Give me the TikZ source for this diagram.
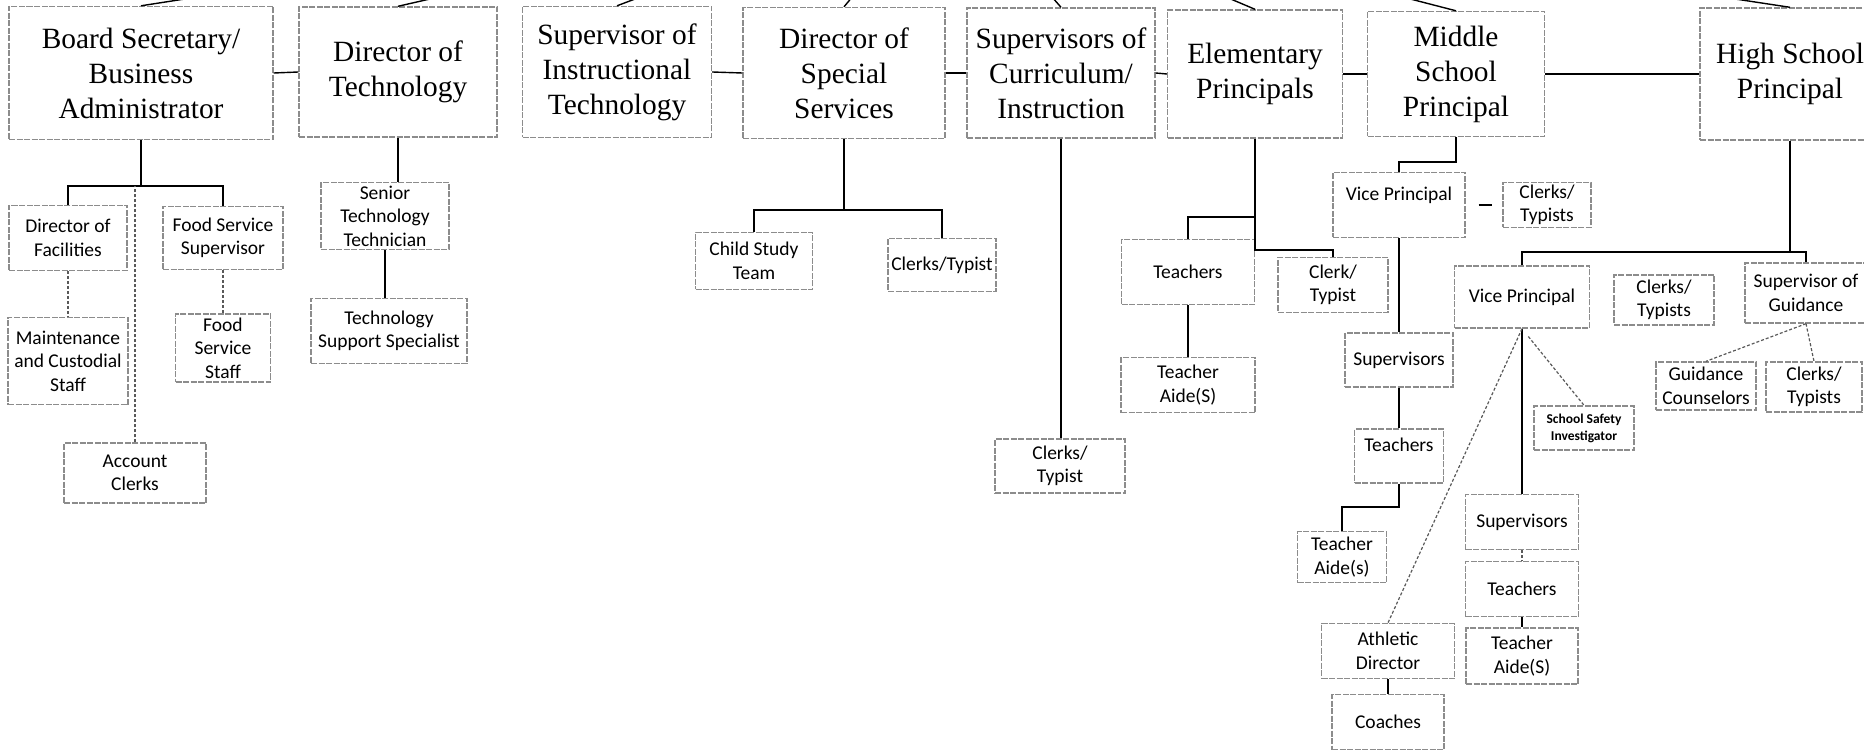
\documentclass[tikz,border=0pt]{standalone}
\usepackage{fontspec}
\setmainfont{Carlito}
\newfontfamily\timesface{Liberation Serif}
\usepackage{tikz}
\newcommand{\headfont}{\timesface\fontsize{29.4}{35}\selectfont}
\newcommand{\staffont}{\fontsize{19.5}{23.5}\selectfont}
\newcommand{\smallstaffont}{\bfseries\fontsize{13.5}{17}\selectfont}
\tikzset{
  boxnode/.style = {draw=black!45, line width=1.4pt, dash pattern=on 6pt off 1.5pt,
    align=center, inner sep=0pt, text centered},
  head/.style = {boxnode, font=\headfont},% top row
  staff/.style = {boxnode, font=\staffont},% lower boxes
  sz/.style 2 args = {minimum width=#1pt, minimum height=#2pt},
  link/.style = {line width=2.2pt},
  thinlink/.style = {line width=1.4pt},
  faint/.style = {line width=1.2pt, black!65, dash pattern=on 3pt off 2pt}
}

\begin{document}
\begin{tikzpicture}[x=1pt, y=-1pt]
    \useasboundingbox (0,0) rectangle (1864,751);
    \clip (0,0) rectangle (1864,751);
    % top row
    \node[head, sz={264}{133}] (b1) at (141,73) {Board Secretary/\\Business\\Administrator};
    \node[head, sz={198}{130}] (b2) at (398,72) {Director of\\Technology};
    \node[head, sz={189}{131}] (b3) at (617,72) {Supervisor of\\Instructional\\Technology};
    \node[head, sz={202}{131}] (b4) at (844,73) {Director of\\Special\\Services};
    \node[head, sz={188}{130}] (b5) at (1061,73) {Supervisors of\\Curriculum/\\Instruction};
    \node[head, sz={175}{128}] (b6) at (1255,74) {Elementary\\Principals};
    \node[head, sz={177}{125}] (b7) at (1456,74) {Middle\\School\\Principal};
    \node[head, sz={180}{132}] (b8) at (1790,74) {High School\\Principal};
    \coordinate (supt) at (950,-120);
    % business office
    \node[staff, sz={118}{65}] (fac) at (68,238) {Director of\\Facilities};
    \node[staff, sz={120}{63}] (fss) at (223,238) {Food Service\\Supervisor};
    \node[staff, sz={120}{87}] (maint) at (68,361) {Maintenance\\and Custodial\\Staff};
    \node[staff, sz={95}{68}] (fstaff) at (223,348) {Food\\Service\\Staff};
    \node[staff, sz={142}{60}] (acct) at (135,473) {Account\\Clerks};
    \coordinate (j1) at (141,186);
    % technology
    \node[staff, sz={128}{67}] (stt) at (385,216) {Senior\\Technology\\Technician};
    \node[staff, sz={156}{65}] (tss) at (389,331) {Technology\\Support Specialist};
    % special services
    \node[staff, sz={117}{57}] (cst) at (754,261) {Child Study\\Team};
    \node[staff, sz={108}{53}] (ssclerk) at (942,265) {Clerks/Typist};
    \coordinate (j4) at (844,210);
    % curriculum
    \node[staff, sz={130}{54}] (b5clerk) at (1060,466) {Clerks/\\Typist};
    % elementary
    \node[staff, sz={133}{65}] (eteach) at (1188,272) {Teachers};
    \node[staff, sz={110}{55}] (eclerk) at (1333,285) {Clerk/\\Typist};
    \node[staff, sz={134}{55}] (eaide) at (1188,385) {Teacher\\Aide(S)};
    \coordinate (j6a) at (1255,217);
    \coordinate (j6b) at (1255,250);
    % middle school
    \node[staff, sz={132}{65}] (mvp) at (1399,205) {Vice Principal\\~};
    \node[staff, sz={88}{45}] (mclerk) at (1547,205) {Clerks/\\Typists};
    \node[staff, sz={108}{54}] (msup) at (1399,360) {Supervisors};
    \node[staff, sz={89}{54}] (mteach) at (1399,456) {Teachers\\~};
    \node[staff, sz={89}{51}] (maide) at (1342,557) {Teacher\\Aide(s)};
    \coordinate (j7) at (1456,162);
    \coordinate (j7b) at (1399,507);
    % high school
    \node[staff, sz={135}{62}] (hvp) at (1522,297) {Vice Principal};
    \node[staff, sz={100}{50}] (hclerk) at (1664,300) {Clerks/\\Typists};
    \node[staff, sz={122}{60}] (hsg) at (1806,293) {Supervisor of\\Guidance};
    \node[staff, sz={100}{48}] (hgc) at (1706,386) {Guidance\\Counselors};
    \node[staff, sz={96}{50}] (hgclerk) at (1814,387) {Clerks/\\Typists};
    \node[boxnode, font=\smallstaffont, sz={100}{44}] (hssi) at (1584,428) {School Safety\\Investigator};
    \node[staff, sz={113}{55}] (hsup) at (1522,522) {Supervisors};
    \node[staff, sz={113}{55}] (hteach) at (1522,589) {Teachers};
    \node[staff, sz={112}{56}] (haide) at (1522,656) {Teacher\\Aide(S)};
    \node[staff, sz={133}{55}] (hath) at (1388,651) {Athletic\\Director};
    \node[staff, sz={112}{55}] (hcoach) at (1388,722) {Coaches};
    \coordinate (j8) at (1790,252);

    % lines up to the superintendent
    \foreach \b in {b1,b2,b3,b4,b5,b6,b7,b8}
        \draw[thinlink] (\b.north) -- (supt);
    % top row
    \draw[thinlink] (b1.east) -- (b2.west);
    \draw[thinlink] (b3.east) -- (b4.west);
    \draw[thinlink] (b4.east) -- (b5.west);
    \draw[thinlink] (b5.east) -- (b6.west);
    \draw[thinlink] (b6.east) -- (b7.west);
    \draw[thinlink] (b7.east) -- (b8.west);
    % business office
    \draw[link] (b1.south) -- (j1);
    \draw[link] (fac.north) |- (j1) -| (fss.north);
    \draw[faint] (acct.north) -- (acct.north |- j1);
    \draw[faint] (fac.south) -- (maint.north);
    \draw[faint] (fss.south) -- (fstaff.north);
    % technology
    \draw[link] (b2.south) -- (b2.south |- stt.north);
    \draw[link] (stt.south) -- (stt.south |- tss.north);
    % special services
    \draw[link] (b4.south) -- (j4);
    \draw[link] (cst.north) |- (j4) -| (ssclerk.north);
    % curriculum
    \draw[thinlink] (b5.south) -- (b5.south |- b5clerk.north);
    % elementary
    \draw[link] (b6.south) -- (j6b) -| (eclerk.north);
    \draw[link] (eteach.north) |- (j6a);
    \draw[thinlink] (eteach.south) -- (eaide.north);
    % middle school
    \draw[link] (b7.south) -- (j7) -| (mvp.north);
    \draw[thinlink, shorten <=13pt, shorten >=10pt] (mvp.east) -- (mclerk.west);
    \draw[link] (mvp.south) -- (msup.north);
    \draw[link] (msup.south) -- (mteach.north);
    \draw[link] (mteach.south) -- (j7b) -| (maide.north);
    % high school
    \draw[link] (b8.south) -- (j8);
    \draw[link] (hvp.north) |- (j8) -| (hsg.north);
    \draw[faint] (hsg.south) -- (hgc.north);
    \draw[faint] (hsg.south) -- (hgclerk.north);
    \draw[link] (hvp.south) -- (hsup.north);
    \draw[faint] (hvp.south) -- (hath.north);
    \draw[faint, shorten <=10pt] (hvp.south) -- (hssi.north);
    \draw[faint] (hsup.south) -- (hteach.north);
    \draw[thinlink] (hteach.south) -- (haide.north);
    \draw[thinlink] (hath.south) -- (hcoach.north);
\end{tikzpicture}
\end{document}
